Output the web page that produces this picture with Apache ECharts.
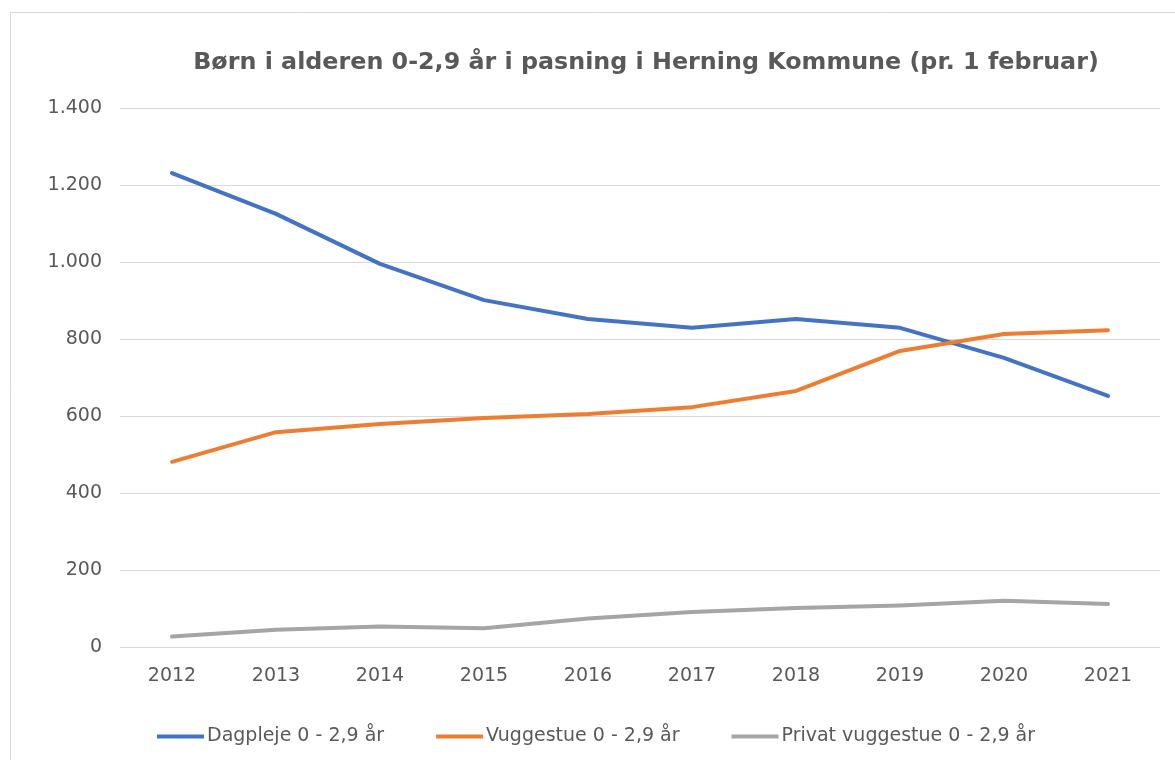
<!DOCTYPE html>
<html>
<head>
<meta charset="utf-8">
<script src="https://cdn.jsdelivr.net/npm/echarts@6/dist/echarts.min.js"></script>
<style>
  html, body { margin: 0; padding: 0; background: #fff; }
  #chart { width: 1175px; height: 760px; }
</style>
</head>
<body>
<div id="chart"></div>
<script>
const years = ['2012', '2013', '2014', '2015', '2016', '2017', '2018', '2019', '2020', '2021']
const dagpleje = [1231, 1125, 995, 901, 852, 829, 852, 829, 751, 652]
const vuggestue = [481, 558, 579, 595, 605, 623, 665, 769, 813, 823]
const privat = [27, 45, 53, 49, 74, 91, 101, 108, 120, 112]
const seriesNames = ['Dagpleje 0 - 2,9 år', 'Vuggestue 0 - 2,9 år', 'Privat vuggestue 0 - 2,9 år']
const colors = ['#4472C4', '#ED7D31', '#A5A5A5']

const font = 'DejaVu Sans'
const textColor = '#595959'

function lineSeries (name, data) {
  return {
    name: name,
    type: 'line',
    data: data,
    symbol: 'none',
    smooth: false,
    lineStyle: { width: 4, cap: 'round', join: 'round' }
  }
}

const chart = echarts.init(document.getElementById('chart'))
chart.setOption({
  animation: false,
  color: colors,
  title: {
    text: 'Børn i alderen 0-2,9 år i pasning i Herning Kommune (pr. 1 februar)',
    left: 641,
    top: 46,
    textAlign: 'center',
    textStyle: {
      fontFamily: font,
      fontSize: 23.8,
      fontWeight: 'bold',
      color: textColor
    }
  },
  graphic: [
    {
      type: 'rect',
      shape: { x: 10.5, y: 12.5, width: 1200, height: 800 },
      style: { fill: 'none', stroke: '#d9d9d9', lineWidth: 1 },
      silent: true
    }
  ],
  legend: {
    bottom: 9,
    left: 152,
    icon: 'rect',
    itemWidth: 47,
    itemHeight: 4,
    itemGap: 52,
    data: seriesNames,
    textStyle: {
      fontFamily: font,
      fontSize: 19,
      color: textColor,
      padding: [0, 0, 0, -2]
    }
  },
  grid: {
    left: 120,
    right: 15,
    top: 108,
    bottom: 113
  },
  xAxis: {
    type: 'category',
    data: years,
    boundaryGap: true,
    axisLine: { show: false },
    axisTick: { show: false },
    axisLabel: {
      margin: 20,
      fontFamily: font,
      fontSize: 19,
      color: textColor
    }
  },
  yAxis: {
    type: 'value',
    min: 0,
    max: 1400,
    interval: 200,
    axisLine: { show: false },
    axisTick: { show: false },
    splitLine: { lineStyle: { color: '#d9d9d9', width: 1 } },
    axisLabel: {
      margin: 18,
      fontFamily: font,
      fontSize: 19,
      color: textColor,
      formatter: function (value) {
        return String(value).replace(/\B(?=(\d{3})+(?!\d))/g, '.')
      }
    }
  },
  series: [
    lineSeries(seriesNames[0], dagpleje),
    lineSeries(seriesNames[1], vuggestue),
    lineSeries(seriesNames[2], privat)
  ]
})
</script>
</body>
</html>
